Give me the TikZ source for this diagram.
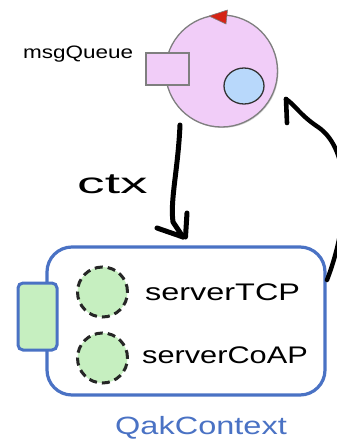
\documentclass[tikz,border=0pt]{standalone}
\usepackage{fontspec}
\setmainfont{Liberation Sans}
\usetikzlibrary{shadows,shapes.geometric}
\definecolor{pinkfill}{HTML}{F1CDF8}
\definecolor{grayline}{HTML}{7F7F7F}
\definecolor{bluefill}{HTML}{B8D8FB}
\definecolor{greenfill}{HTML}{C6EFC0}
\definecolor{ctxblue}{HTML}{4A72C4}
\definecolor{tipred}{HTML}{D52416}
\tikzset{
  lbl/.style={inner sep=0pt, anchor=base west, text=black},
  hand/.style={line width=5pt, line cap=round, line join=round, black},
  shade/.style={drop shadow={opacity=0.35, shadow xshift=1pt, shadow yshift=-1pt}},
  server/.style={circle, minimum size=50pt, inner sep=0pt, fill=greenfill, draw=black!85, line width=3pt, dash pattern=on 8pt off 5pt},
}
\begin{document}
\begin{tikzpicture}[x=1pt, y=-1pt]
\useasboundingbox (0,0) rectangle (337,440);
% actor circle
\node[circle, minimum size=112pt, inner sep=0pt, fill=pinkfill, draw=grayline, line width=1.3pt, shade] (actor) at (221.5,71) {};
\node[draw=grayline, fill=pinkfill, line width=1.3pt, minimum width=43pt, minimum height=32pt, inner sep=0pt, shade] (queue) at (167.5,69) {};
\node[ellipse, draw=black!80, fill=bluefill, line width=1.3pt, minimum width=40pt, minimum height=36pt, inner sep=0pt] (mbox) at (244,86) {};
\fill[tipred, draw=grayline, line width=0.6pt, line join=round] (209,16) -- (227.5,10) -- (226,24) -- cycle;
\node[lbl] (qlabel) at (23,58) {\fontsize{18}{18}\selectfont\scalebox{1.25}[1]{msgQueue}};
% context box
\draw[ctxblue, line width=3.2pt, rounded corners=25pt] (47,247) rectangle (325,395);
\node[draw=ctxblue, fill=greenfill, line width=3pt, rounded corners=5pt, minimum width=39pt, minimum height=67pt, inner sep=0pt] (port) at (37.5,316.5) {};
\coordinate (ctxbox) at (186,247);
\node[server] (tcp) at (102.5,292) {};
\node[server] (coap) at (102.5,358) {};
\node[lbl] (tcplbl) at (145,300) {\fontsize{24}{24}\selectfont\scalebox{1.35}[1]{serverTCP}};
\node[lbl] (coaplbl) at (142,363) {\fontsize{24}{24}\selectfont\scalebox{1.28}[1]{serverCoAP}};
\node[lbl, text=ctxblue] (ctxname) at (115,434) {\fontsize{25}{25}\selectfont\scalebox{1.3}[1]{QakContext}};
% ctx arrow
\coordinate (a0) at (180,125);
\coordinate (a1) at (183,237);
\draw[hand] (a0) .. controls (178,170) and (170,200) .. (173,222) -- (a1);
\draw[hand] (157,228) -- (a1);
\draw[hand] (187,213) -- (185.5,237);
\node[lbl] (ctxlbl) at (77,193) {\fontsize{29}{29}\selectfont\scalebox{1.9}[1]{ctx}};
% return arrow
\begin{scope}
\clip (0,0) rectangle (337,440);
\coordinate (b0) at (327,280);
\coordinate (b1) at (286,99);
\draw[hand, line width=4.4pt] (b0) .. controls (350,220) and (352,150) .. (318,127) .. controls (300,115) and (295,105) .. (b1);
\draw[hand, line width=4.6pt] (b1) -- (287,123);
\end{scope}
\end{tikzpicture}
\end{document}
